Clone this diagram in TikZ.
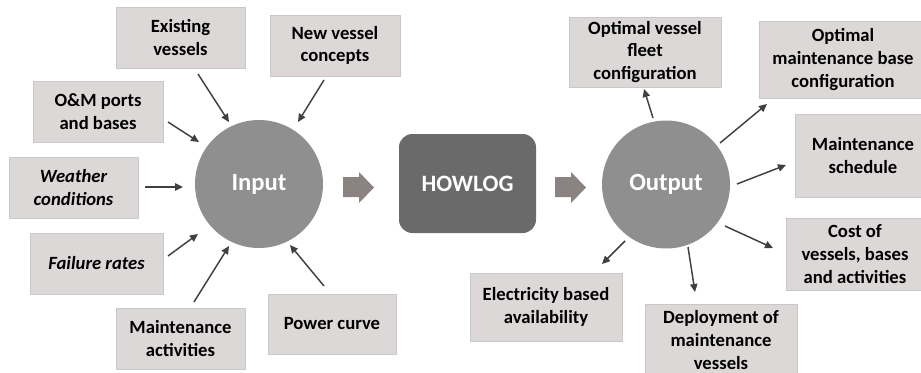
\documentclass[tikz,border=0pt]{standalone}
\usepackage{fontspec}
\setmainfont{Carlito}
\usetikzlibrary{arrows.meta}

\definecolor{boxfill}{RGB}{220,216,216}
\definecolor{boxline}{RGB}{200,200,200}
\definecolor{ballfill}{RGB}{143,143,143}
\definecolor{corefill}{RGB}{106,106,106}
\definecolor{blockfill}{RGB}{139,130,130}
\definecolor{arrline}{RGB}{64,64,64}

\tikzset{every picture/.style={line width=0.75pt}}
\tikzset{
  infobox/.style={draw=boxline, fill=boxfill, align=center, inner sep=0pt,
    font=\fontsize{14}{17}\selectfont\bfseries},
  ball/.style={circle, fill=ballfill, inner sep=0pt, minimum size=128*0.75pt,
    text=white, font=\fontsize{18.5}{22}\selectfont\bfseries},
  arr/.style={draw=arrline, line width=1.1pt, -{Triangle[length=6pt,width=5.5pt]}},
}

\begin{document}
\begin{tikzpicture}[x=0.75pt,y=0.75pt,yscale=-1,xscale=1]
\useasboundingbox (0,0) rectangle (921,372);

% Input side boxes
\node[infobox, minimum width=129*0.75pt, minimum height=61*0.75pt] (exist) at (180.5,37.5) {Existing\\vessels};
\node[infobox, minimum width=130*0.75pt, minimum height=61*0.75pt] (newv) at (335,45.5) {New vessel\\concepts};
\node[infobox, minimum width=130*0.75pt, minimum height=61*0.75pt] (ports) at (98,111.5) {O\&M ports\\and bases};
\node[infobox, minimum width=129*0.75pt, minimum height=61*0.75pt] (weather) at (73.5,187.5) {\itshape Weather\\\itshape conditions};
\node[infobox, minimum width=133*0.75pt, minimum height=61*0.75pt] (fail) at (96.5,263.5) {\itshape Failure rates};
\node[infobox, minimum width=129*0.75pt, minimum height=61*0.75pt] (mact) at (180.5,338.5) {Maintenance\\activities};
\node[infobox, minimum width=128*0.75pt, minimum height=60*0.75pt] (power) at (332,324) {Power curve};

% Output side boxes
\node[infobox, minimum width=152*0.75pt, minimum height=70*0.75pt] (fleet) at (645,52) {Optimal vessel\\fleet\\configuration};
\node[infobox, minimum width=168*0.75pt, minimum height=77*0.75pt] (base) at (843,59.5) {Optimal\\maintenance base\\configuration};
\node[infobox, minimum width=136*0.75pt, minimum height=83*0.75pt] (sched) at (863,155.5) {Maintenance\\schedule};
\node[infobox, minimum width=138*0.75pt, minimum height=72*0.75pt] (cost) at (855,254) {Cost of\\vessels, bases\\and activities};
\node[infobox, minimum width=152*0.75pt, minimum height=72*0.75pt] (deploy) at (721,340) {Deployment of\\maintenance\\vessels};
\node[infobox, minimum width=152*0.75pt, minimum height=68*0.75pt] (elec) at (546,307) {Electricity based\\availability};

% Circles and model block
\node[ball] (input) at (259,184) {Input};
\node[ball] (output) at (666,184.5) {Output};
\node[fill=corefill, rounded corners=10pt, minimum width=137*0.75pt, minimum height=99*0.75pt,
  text=white, font=\fontsize{17.6}{22}\selectfont\bfseries] (howlog) at (467.5,183.5) {HOWLOG};

%Shape: Right Arrow
\fill[blockfill] (343,177) -- (359,177) -- (359,172) -- (374,187.5) -- (359,203) -- (359,197) -- (343,197) -- cycle;
%Shape: Right Arrow
\fill[blockfill] (555,177) -- (571,177) -- (571,172) -- (586,187.5) -- (571,203) -- (571,197) -- (555,197) -- cycle;

% arrow ends
\coordinate (exist-t) at (198,74);   \coordinate (exist-h) at (229,122);
\coordinate (newv-t) at (324,80);    \coordinate (newv-h) at (298,122);
\coordinate (ports-t) at (168,122);  \coordinate (ports-h) at (199,142);
\coordinate (weather-t) at (145,187);\coordinate (weather-h) at (183,187);
\coordinate (fail-t) at (168,256);   \coordinate (fail-h) at (198,234);
\coordinate (mact-t) at (194,302);   \coordinate (mact-h) at (229,246);
\coordinate (power-t) at (324,286);  \coordinate (power-h) at (290,245);

\coordinate (fleet-t) at (653,118);  \coordinate (fleet-h) at (644,89);
\coordinate (base-t) at (720,143);   \coordinate (base-h) at (767,104);
\coordinate (sched-t) at (737,184);  \coordinate (sched-h) at (786,165);
\coordinate (cost-t) at (725,226);   \coordinate (cost-h) at (773,248);
\coordinate (deploy-t) at (688,247); \coordinate (deploy-h) at (695,292);
\coordinate (elec-t) at (625,241);   \coordinate (elec-h) at (602,264);

%Straight Lines
\foreach \n in {exist,newv,ports,weather,fail,mact,power,fleet,base,sched,cost,deploy,elec}
  \draw[arr] (\n-t) -- (\n-h);

\end{tikzpicture}
\end{document}
